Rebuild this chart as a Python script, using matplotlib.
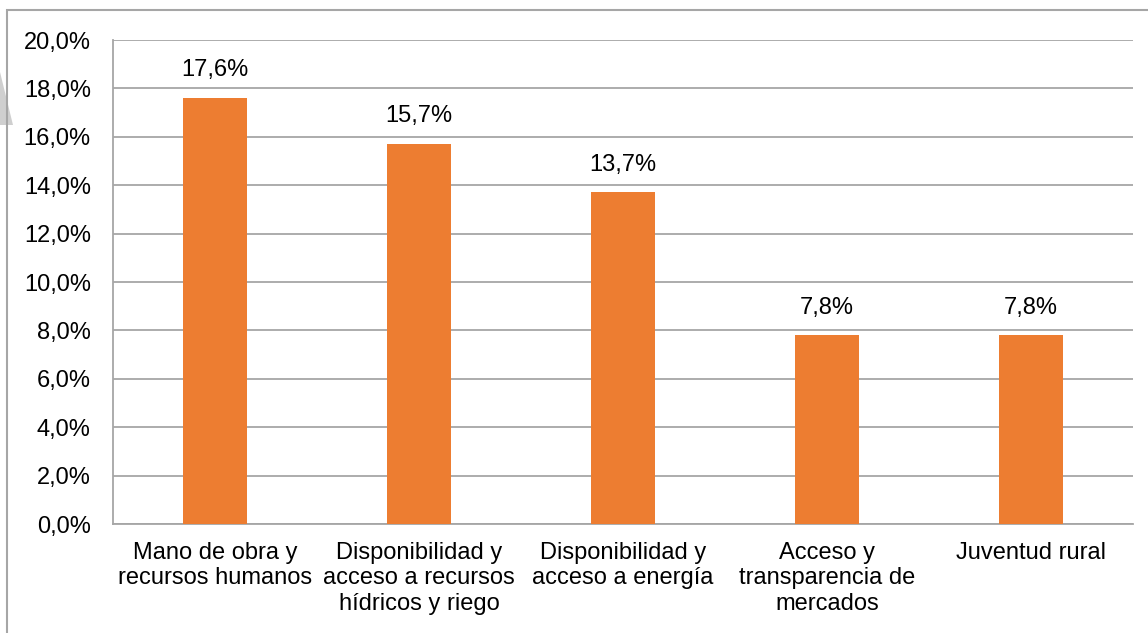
import matplotlib
matplotlib.use("Agg")
import matplotlib.pyplot as plt
from matplotlib.patches import Rectangle, Polygon
from matplotlib.ticker import FuncFormatter

categories = ["Mano de obra y\nrecursos humanos",
              "Disponibilidad y\nacceso a recursos\nhídricos y riego",
              "Disponibilidad y\nacceso a energía",
              "Acceso y\ntransparencia de\nmercados",
              "Juventud rural"]
values = [0.176, 0.157, 0.137, 0.078, 0.078]
yticks = [0.0, 0.02, 0.04, 0.06, 0.08, 0.10, 0.12, 0.14, 0.16, 0.18, 0.20]

plt.rcParams['font.family'] = ['Liberation Sans', 'DejaVu Sans']
W, H = 1148, 633
fig = plt.figure(figsize=(W/100, H/100), dpi=100)
ax = fig.add_axes([113/W, 1-524/H, (1133-113)/W, (524-40)/H])

# faint gray shape at the left edge
fig.patches.append(Polygon([(0, 1-72/H), (13/W, 1-125/H), (0, 1-125/H)], closed=True,
                           transform=fig.transFigure, facecolor='#CFCFCF', edgecolor='none'))
# outer chart border
fig.patches.append(Rectangle((7/W, -0.1), 1.2, 1-10/H+0.1, transform=fig.transFigure,
                             fill=False, edgecolor='#A6A6A6', linewidth=1.5))

x = list(range(len(categories)))
ax.bar(x, values, width=0.315, color='#ED7D31', zorder=3)
ax.set_xlim(-0.5, len(categories)-0.5)
ax.set_ylim(0, 0.2)
ax.set_yticks(yticks)
ax.yaxis.set_major_formatter(FuncFormatter(lambda v, p: f"{v*100:.1f}%".replace('.', ',')))
ax.grid(axis='y', color='#A6A6A6', linewidth=1.3, zorder=0)
ax.set_xticks(x)
ax.set_xticklabels(categories, fontsize=17, linespacing=1.2)
ax.tick_params(axis='y', length=0, pad=16, labelsize=17)
ax.tick_params(axis='x', length=0, pad=13)
for s in ['top', 'right']:
    ax.spines[s].set_visible(False)
for s in ['left', 'bottom']:
    ax.spines[s].set_color('#A6A6A6')
    ax.spines[s].set_linewidth(1.3)

for xi, v in zip(x, values):
    ax.annotate(f"{v*100:.1f}%".replace('.', ','), (xi, v), xytext=(0, 12),
                textcoords='offset points', ha='center', va='bottom', fontsize=17)

fig.savefig("out.png", dpi=100)
